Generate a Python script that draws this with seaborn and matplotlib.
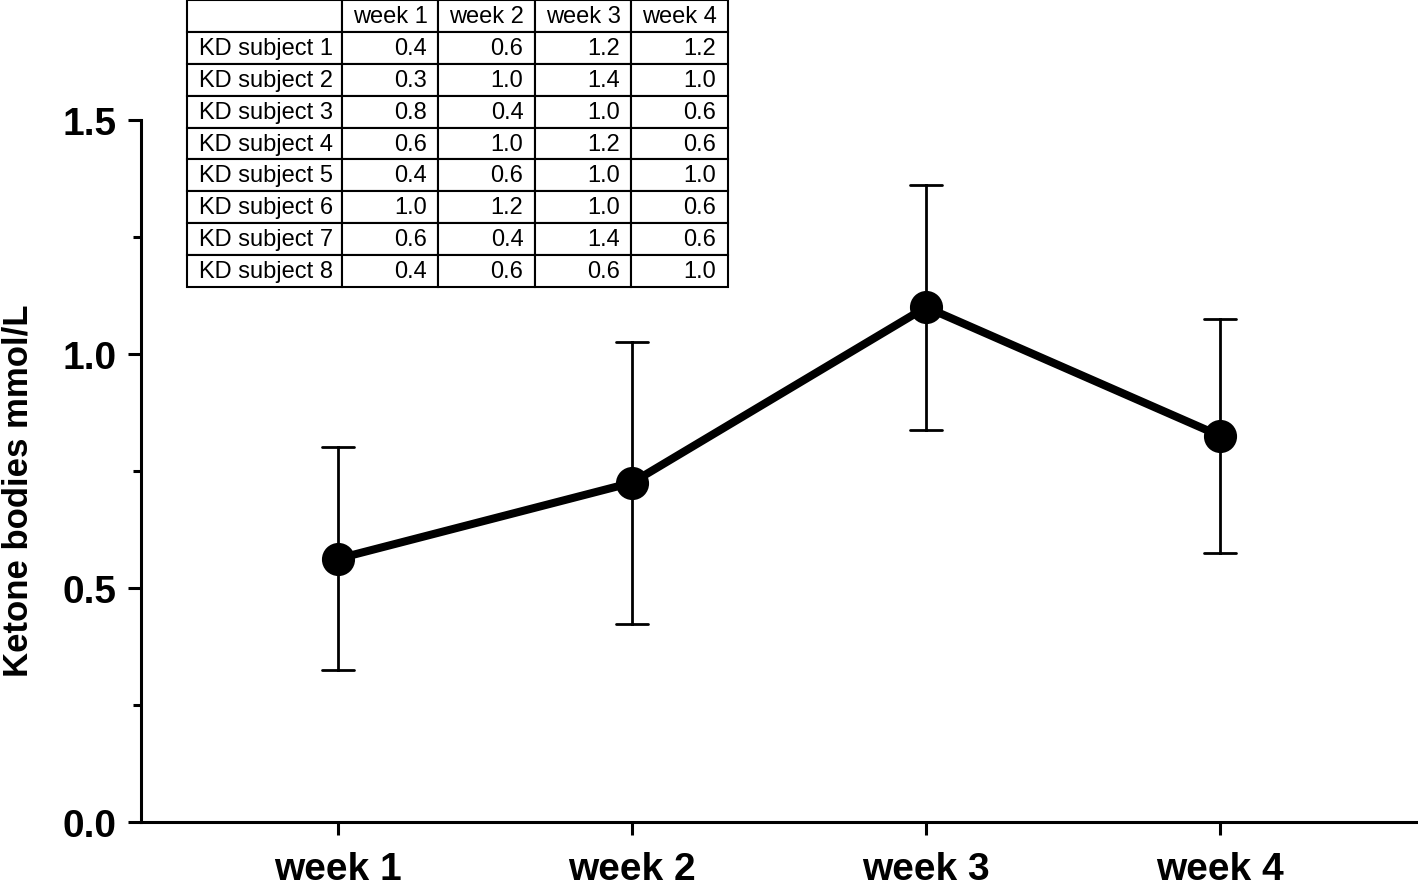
"""
Ketone bodies over four weeks of KD, mean +/- SD with the raw table on top
"""

import pandas as pd
import matplotlib.pyplot as plt
import seaborn as sns
from matplotlib.ticker import MultipleLocator

weeks = ['week 1', 'week 2', 'week 3', 'week 4']
subjects = ['KD subject 1', 'KD subject 2', 'KD subject 3', 'KD subject 4',
            'KD subject 5', 'KD subject 6', 'KD subject 7', 'KD subject 8']
week1 = [0.4, 0.3, 0.8, 0.6, 0.4, 1.0, 0.6, 0.4]
week2 = [0.6, 1.0, 0.4, 1.0, 0.6, 1.2, 0.4, 0.6]
week3 = [1.2, 1.4, 1.0, 1.2, 1.0, 1.0, 1.4, 0.6]
week4 = [1.2, 1.0, 0.6, 0.6, 1.0, 0.6, 0.6, 1.0]

sns.set_style('ticks')
plt.rcParams['font.family'] = ['Liberation Sans', 'DejaVu Sans']
plt.rcParams['text.color'] = 'black'
plt.rcParams['xtick.color'] = 'black'
plt.rcParams['ytick.color'] = 'black'
plt.rcParams['axes.labelcolor'] = 'black'


def build_long_df():
    wide = pd.DataFrame({'week 1': week1, 'week 2': week2,
                         'week 3': week3, 'week 4': week4}, index=subjects)
    long = wide.reset_index(names='subject').melt(
        id_vars='subject', var_name='week', value_name='ketone')
    return wide, long


def main():
    wide, long = build_long_df()

    fig = plt.figure(figsize=(14.18, 8.87), dpi=100)
    ax = fig.add_axes([0.0994, 0.0722, 0.9006, 0.7914])

    # mean +/- SD per week
    sns.pointplot(data=long, x='week', y='ketone', order=weeks,
                  errorbar='sd', color='black', capsize=0.11,
                  linewidth=5.8, markersize=19.5,
                  err_kws={'linewidth': 2.0}, ax=ax)

    ax.set_xlim(-0.67, 3.673)
    ax.set_ylim(0, 1.5)
    ax.yaxis.set_major_locator(MultipleLocator(0.5))
    ax.yaxis.set_minor_locator(MultipleLocator(0.25))
    ax.yaxis.set_major_formatter(plt.FormatStrFormatter('%.1f'))

    for side in ['top', 'right']:
        ax.spines[side].set_visible(False)
    for side in ['left', 'bottom']:
        ax.spines[side].set_linewidth(2.2)
        ax.spines[side].set_color('black')

    ax.tick_params(axis='y', which='major', length=9.5, width=2.2, pad=8,
                   labelsize=28, labelcolor='black')
    ax.tick_params(axis='y', which='minor', length=6, width=2.2)
    ax.tick_params(axis='x', which='major', length=9, width=2.2, pad=12,
                   labelsize=28, labelcolor='black')
    for lbl in ax.get_xticklabels() + ax.get_yticklabels():
        lbl.set_fontweight('bold')

    ax.set_xlabel('')
    ax.set_ylabel('Ketone bodies mmol/L', fontsize=25, fontweight='bold')
    ax.yaxis.set_label_coords(-0.0835, 0.473)

    # raw values table in the upper left
    cells = [[f'{v:.1f}' for v in row] for row in wide[weeks].values]
    header = [''] + weeks
    body = [[s] + r for s, r in zip(subjects, cells)]
    tbl = ax.table(cellText=[header] + body, cellLoc='right',
                   colWidths=[0.2865, 0.1784, 0.1784, 0.1784, 0.1784],
                   bbox=[0.036, 0.762, 0.4237, 0.409])
    tbl.auto_set_font_size(False)
    tbl.set_fontsize(17)
    for (r, c), cell in tbl.get_celld().items():
        cell.set_linewidth(1.5)
        cell.set_edgecolor('black')
        if c == 0:
            cell.PAD = 0.075
            cell.get_text().set_ha('left')
            cell._loc = 'left'
        elif r == 0:
            cell.PAD = 0.05
            cell.get_text().set_ha('center')
            cell._loc = 'center'
        else:
            cell.PAD = 0.12
    tbl.set_clip_on(False)

    fig.savefig('out.png', dpi=100)
    plt.close(fig)


if __name__ == '__main__':
    main()
